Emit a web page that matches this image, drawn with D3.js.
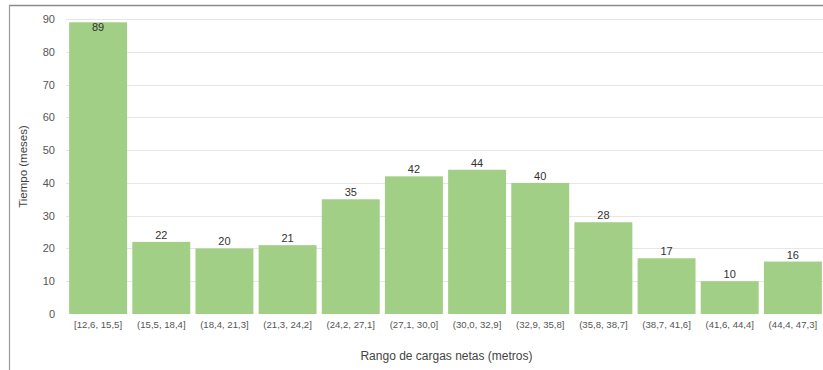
<!DOCTYPE html>
<html>
<head>
<meta charset="utf-8">
<script src="https://cdn.jsdelivr.net/npm/d3@7"></script>
<style>
  body { margin: 0; background: #fff; }
  svg { display: block; font-family: "Liberation Sans", Arial, sans-serif; }
</style>
</head>
<body>
<div id="chart"></div>
<script>
// categories = net head ranges (metros), values = months
const categories = ["[12,6, 15,5]", "(15,5, 18,4]", "(18,4, 21,3]", "(21,3, 24,2]",
  "(24,2, 27,1]", "(27,1, 30,0]", "(30,0, 32,9]", "(32,9, 35,8]",
  "(35,8, 38,7]", "(38,7, 41,6]", "(41,6, 44,4]", "(44,4, 47,3]"];
const meses = [89, 22, 20, 21, 35, 42, 44, 40, 28, 17, 10, 16];
const yTicks = [0, 10, 20, 30, 40, 50, 60, 70, 80, 90];

const W = 823, H = 370;
const margin = {top: 19, right: -2, bottom: 56, left: 66};

const svg = d3.select("#chart").append("svg")
  .attr("width", W).attr("height", H);

// frame lines (top + left)
svg.append("line").attr("x1", 9).attr("x2", W).attr("y1", 5.5).attr("y2", 5.5)
  .attr("stroke", "#8a8a8a").attr("stroke-width", 1.5);
svg.append("line").attr("x1", 9.5).attr("x2", 9.5).attr("y1", 5).attr("y2", H)
  .attr("stroke", "#9a9a9a").attr("stroke-width", 1.2);

const x = d3.scaleBand()
  .domain(categories)
  .range([margin.left, W - margin.right])
  .paddingInner(0.083)
  .paddingOuter(0.05);

const y = d3.scaleLinear()
  .domain([0, 90])
  .range([H - margin.bottom, margin.top]);

// gridlines
svg.append("g").selectAll("line")
  .data(yTicks.filter(d => d > 0))
  .enter().append("line")
  .attr("x1", margin.left).attr("x2", W)
  .attr("y1", d => Math.round(y(d)) + 0.5).attr("y2", d => Math.round(y(d)) + 0.5)
  .attr("stroke", "#e6e6e6");

// y axis labels
const yAxis = svg.append("g")
  .attr("transform", "translate(" + (margin.left - 11) + ",0)")
  .call(d3.axisLeft(y).tickValues(yTicks).tickSize(0).tickPadding(0));
yAxis.select(".domain").remove();
yAxis.selectAll("text").attr("fill", "#555").style("font-size", "11px");

// bars
svg.append("g").selectAll("rect")
  .data(meses)
  .enter().append("rect")
  .attr("x", (d, i) => x(categories[i]))
  .attr("y", d => y(d))
  .attr("width", x.bandwidth())
  .attr("height", d => y(0) - y(d))
  .attr("fill", "#a1cf85");

// value labels
svg.append("g").selectAll("text")
  .data(meses)
  .enter().append("text")
  .attr("x", (d, i) => x(categories[i]) + x.bandwidth() / 2)
  .attr("y", d => Math.max(y(d) - 3, 31))
  .attr("text-anchor", "middle")
  .attr("fill", "#333")
  .style("font-size", "11px")
  .text(d => d);

// x axis labels
const xAxis = svg.append("g")
  .attr("transform", "translate(0," + (y(0) + 7) + ")")
  .call(d3.axisBottom(x).tickSize(0).tickPadding(0));
xAxis.select(".domain").remove();
xAxis.selectAll("text").attr("fill", "#555").style("font-size", "9.6px");

// axis titles
svg.append("text")
  .attr("x", (margin.left + W) / 2 + 2)
  .attr("y", 360)
  .attr("text-anchor", "middle")
  .attr("fill", "#444")
  .style("font-size", "12px")
  .text("Rango de cargas netas (metros)");

svg.append("text")
  .attr("transform", "translate(27," + ((margin.top + y(0)) / 2) + ") rotate(-90)")
  .attr("text-anchor", "middle")
  .attr("fill", "#444")
  .style("font-size", "11.5px")
  .text("Tiempo (meses)");
</script>
</body>
</html>
